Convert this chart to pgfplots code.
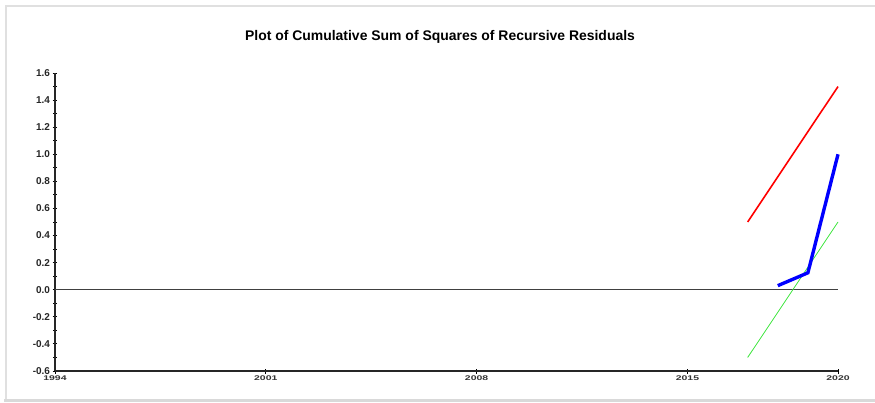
\documentclass[border=0pt]{standalone}
\usepackage{pgfplots}
\pgfplotsset{compat=1.18}
\usepackage{fontspec}
\usepackage{graphicx}
\setmainfont{Liberation Sans}
\definecolor{cgreen}{RGB}{60,230,60}
\newcommand{\xl}[1]{\scalebox{1}[0.65]{#1}}
\begin{document}
\begin{tikzpicture}[x=1bp,y=1bp]
\useasboundingbox (0,0) rectangle (875,402);
\fill[white] (0,0) rectangle (875,402);
\draw[black!12,line width=1.5bp] (6,3) -- (6,396) -- (875,396);
\draw[black!15,line width=3bp] (4,2) -- (875,2);
\node[font=\bfseries\fontsize{14}{16}\selectfont] at (440,365) {Plot of Cumulative Sum of Squares of Recursive Residuals};
\begin{axis}[
  at={(55bp,31bp)}, anchor=south west,
  scale only axis, width=783bp, height=298bp,
  xmin=1994, xmax=2020, ymin=-0.6, ymax=1.6,
  axis lines*=left,
  axis line style={black!85, line width=1.5pt, -},
  xtick={1994,2001,2008,2015,2020},
  xticklabels={\xl{1994},\xl{2001},\xl{2008},\xl{2015},\xl{2020}},
  ytick={-0.6,-0.4,...,1.61},
  minor y tick num=1,
  /pgf/number format/fixed,
  /pgf/number format/fixed zerofill,
  /pgf/number format/precision=1,
  /pgf/number format/assume math mode=true,
  tick align=center,
  major tick length=5bp, minor tick length=4bp,
  tick style={black, line width=0.9pt},
  x tick label style={font=\bfseries\fontsize{10.5}{12}\selectfont, yshift=1bp, text=black!80},
  y tick label style={font=\bfseries\fontsize{10}{12}\selectfont, xshift=1bp, text=black!85},
  clip=false,
]
\addplot[black!75, line width=1.2pt] coordinates {(1994,0) (2020,0)};
\addplot[red, line width=1.6pt] coordinates {(2017,0.5) (2020,1.5)};
\addplot[cgreen, line width=0.8pt] coordinates {(2017,-0.5) (2020,0.5)};
\addplot[blue, line width=3.4pt] coordinates {(2018,0.03) (2019,0.125) (2020,1.0)};
\end{axis}
\end{tikzpicture}
\end{document}
